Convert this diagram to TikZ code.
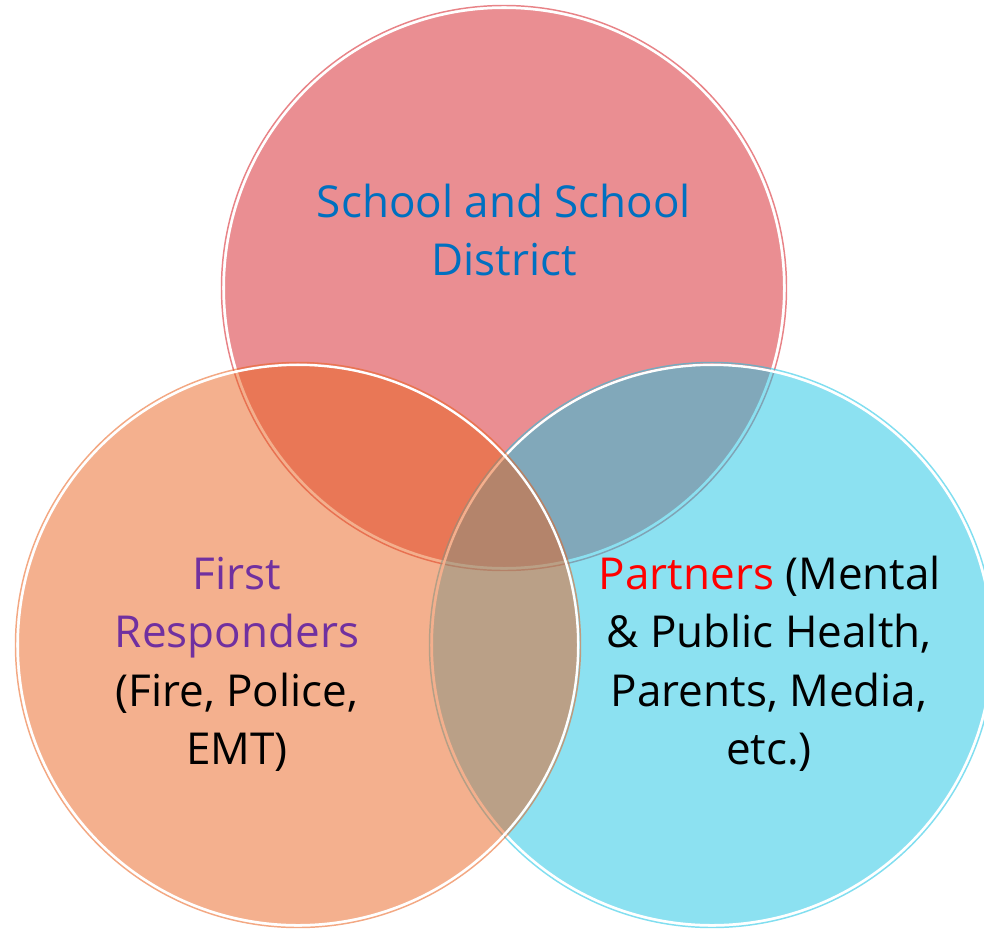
\documentclass[tikz,border=0pt]{standalone}
\usepackage{fontspec}
\setmainfont{Open Sans}
\definecolor{pinkc}{RGB}{213,29,37}
\definecolor{orangec}{RGB}{233,97,29}
\definecolor{cyanc}{RGB}{25,195,227}
\definecolor{tblue}{RGB}{0,112,192}
\definecolor{tpurple}{RGB}{112,48,160}
\definecolor{tred}{RGB}{255,0,0}
\tikzset{
  vfill/.style={fill=#1, fill opacity=0.5},
  vband/.style={draw=white, line width=1.8pt},
  vrim/.style={draw=#1, draw opacity=0.55, line width=1.1pt},
  lbl/.style={anchor=base, inner sep=0pt, font=\fontsize{33}{38}\selectfont},
}
\begin{document}
\begin{tikzpicture}[x=0.75pt,y=-0.75pt]
\useasboundingbox (0,0) rectangle (984,928);
% top circle
\fill[vfill=pinkc] (504,288) circle (280);
\draw[vband] (504,288) circle (280.2);
\draw[vrim=pinkc] (504,288) circle (282.5);
% right circle
\fill[vfill=cyanc] (712,645) circle (280);
\draw[vband] (712,645) circle (280.2);
\draw[vrim=cyanc] (712,645) circle (282.5);
% left circle
\fill[vfill=orangec] (298,645) circle (280);
\draw[vband] (298,645) circle (280.2);
\draw[vrim=orangec] (298,645) circle (282.5);
% labels
\node[lbl, text=tblue] (s1) at (504,217) {School and School};
\node[lbl, text=tblue] (s2) at (504,275) {District};
\node[lbl, text=tpurple] (f1) at (237,589) {First};
\node[lbl, text=tpurple] (f2) at (237,647) {Responders};
\node[lbl] (f3) at (237,706) {(Fire, Police,};
\node[lbl] (f4) at (237,764) {EMT)};
\node[lbl] (p1) at (770,589) {\textcolor{tred}{Partners} (Mental};
\node[lbl] (p2) at (769,647) {\& Public Health,};
\node[lbl] (p3) at (769,706) {Parents, Media,};
\node[lbl] (p4) at (769,764) {etc.)};
\end{tikzpicture}
\end{document}
